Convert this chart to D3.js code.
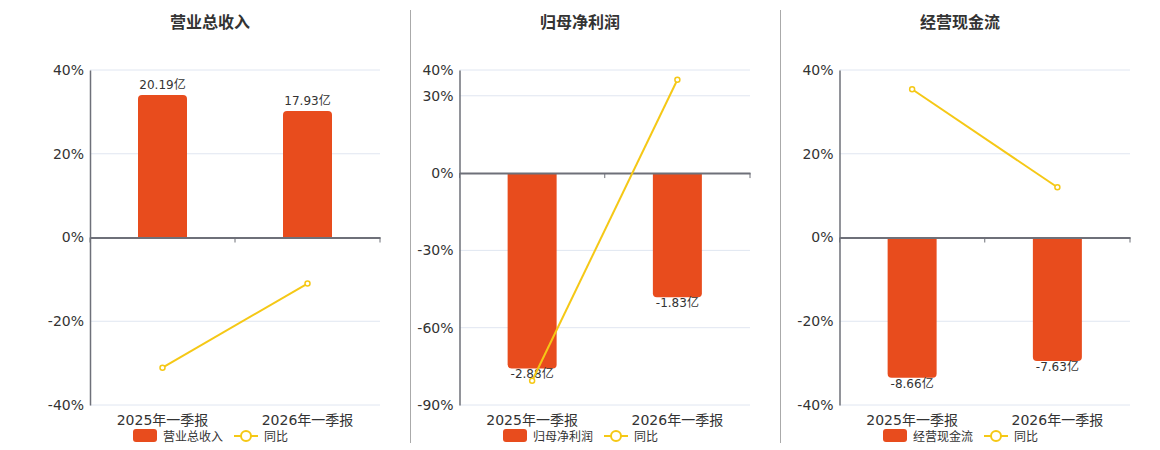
<!DOCTYPE html>
<html>
<head>
<meta charset="utf-8">
<script src="https://cdn.jsdelivr.net/npm/d3@7"></script>
<style>
  body { margin: 0; background: #fff; }
  svg { font-family: "DejaVu Sans", "Noto Sans CJK SC", sans-serif; }
</style>
</head>
<body>
<div id="chart"></div>
<script>
// Quarterly report: three small combo charts (bars = value in 亿, line = YoY %)

var categories = ["2025年一季报", "2026年一季报"];
var panelTitles = ["营业总收入", "归母净利润", "经营现金流"];

// bar values (亿)
var revenue = [20.19, 17.93];
var netProfit = [-2.88, -1.83];
var cashFlow = [-8.66, -7.63];

// YoY (%)
var revenueYoY = [-31.1, -11.0];
var profitYoY = [-80.6, 36.2];
var cashYoY = [35.4, 12.0];

// left axis ticks (%)
var revenueTicks = [-40, -20, 0, 20, 40];
var profitTicks = [-90, -60, -30, 0, 30, 40];
var cashTicks = [-40, -20, 0, 20, 40];

// hidden bar axis extents, zero aligned with the % axis
var revenueBarExtent = [-23.74, 23.74];
var profitBarExtent = [-3.42, 1.52];
var cashBarExtent = [-10.35, 10.35];

var svgWidth = 1160;
var svgHeight = 450;

var svg = d3.select("#chart")
  .append("svg")
  .attr("width", svgWidth)
  .attr("height", svgHeight);

var barColor = "#e84c1d";
var lineColor = "#f5c816";
var axisColor = "#6e7079";
var gridColor = "#e0e6f1";
var textColor = "#333";

var plotTop = 70, plotBottom = 405;

var panels = [
  { title: panelTitles[0], bars: revenue, yoy: revenueYoY, ticks: revenueTicks, barExtent: revenueBarExtent, left: 90, right: 380, center: 210 },
  { title: panelTitles[1], bars: netProfit, yoy: profitYoY, ticks: profitTicks, barExtent: profitBarExtent, left: 459.5, right: 750, center: 580 },
  { title: panelTitles[2], bars: cashFlow, yoy: cashYoY, ticks: cashTicks, barExtent: cashBarExtent, left: 839.5, right: 1130, center: 960 }
];

// dividers between panels
[410.5, 780.5].forEach(function(x) {
  svg.append("line")
    .attr("x1", x).attr("x2", x)
    .attr("y1", 10).attr("y2", 443)
    .attr("stroke", "#aaa")
    .attr("stroke-width", 1);
});

function barPath(x0, x1, yv, y0, r) {
  if (yv < y0) {
    return `M${x0},${y0} V${yv + r} Q${x0},${yv} ${x0 + r},${yv} H${x1 - r} Q${x1},${yv} ${x1},${yv + r} V${y0} Z`;
  }
  return `M${x0},${y0} V${yv - r} Q${x0},${yv} ${x0 + r},${yv} H${x1 - r} Q${x1},${yv} ${x1},${yv - r} V${y0} Z`;
}

panels.forEach(function(p) {
  var g = svg.append("g");

  var yScale = d3.scaleLinear()
    .domain([d3.min(p.ticks), d3.max(p.ticks)])
    .range([plotBottom, plotTop]);

  var barScale = d3.scaleLinear()
    .domain(p.barExtent)
    .range([plotBottom, plotTop]);

  var xScale = d3.scaleBand()
    .domain(categories)
    .range([p.left, p.right]);

  var barWidth = 49;

  // title
  g.append("text")
    .attr("x", p.center)
    .attr("y", 28)
    .attr("text-anchor", "middle")
    .style("font-size", "16px")
    .style("font-weight", "bold")
    .attr("fill", textColor)
    .text(p.title);

  // gridlines
  g.selectAll(".grid")
    .data(p.ticks.filter(function(t) { return t !== 0; }))
    .enter()
    .append("line")
    .attr("x1", p.left).attr("x2", p.right)
    .attr("y1", function(d) { return yScale(d); })
    .attr("y2", function(d) { return yScale(d); })
    .attr("stroke", gridColor)
    .attr("stroke-width", 1);

  // left axis
  var leftAxis = d3.axisLeft(yScale)
    .tickValues(p.ticks)
    .tickSize(0)
    .tickPadding(6)
    .tickFormat(function(d) { return d + "%"; });

  var yAxisG = g.append("g")
    .attr("transform", `translate(${p.left},0)`)
    .call(leftAxis);
  yAxisG.select(".domain").attr("stroke", axisColor).attr("stroke-width", 1.5);
  yAxisG.selectAll("text")
    .style("font-size", "14px")
    .style("font-family", "DejaVu Sans, Noto Sans CJK SC, sans-serif")
    .attr("fill", textColor);

  // bars
  g.selectAll(".bar")
    .data(p.bars)
    .enter()
    .append("path")
    .attr("fill", barColor)
    .attr("d", function(d, i) {
      var cx = xScale(categories[i]) + xScale.bandwidth() / 2;
      return barPath(cx - barWidth / 2, cx + barWidth / 2, barScale(d), barScale(0), 4);
    });

  // bar labels
  g.selectAll(".barLabel")
    .data(p.bars)
    .enter()
    .append("text")
    .attr("x", function(d, i) { return xScale(categories[i]) + xScale.bandwidth() / 2; })
    .attr("y", function(d) { return d >= 0 ? barScale(d) - 6 : barScale(d) + 10; })
    .attr("text-anchor", "middle")
    .style("font-size", "12px")
    .attr("fill", textColor)
    .text(function(d) { return d.toFixed(2) + "亿"; });

  // x axis on zero line
  var bottomAxis = d3.axisBottom(xScale)
    .tickSize(0)
    .tickPadding(0)
    .tickFormat("");
  var xAxisG = g.append("g")
    .attr("transform", `translate(0,${yScale(0)})`)
    .call(bottomAxis);
  xAxisG.select(".domain").attr("stroke", axisColor).attr("stroke-width", 2);

  // boundary ticks
  var bounds = [p.left, xScale(categories[1]), p.right];
  g.selectAll(".btick")
    .data(bounds)
    .enter()
    .append("line")
    .attr("x1", function(d) { return d; }).attr("x2", function(d) { return d; })
    .attr("y1", yScale(0)).attr("y2", yScale(0) + 5)
    .attr("stroke", axisColor)
    .attr("stroke-width", 1);

  // category labels
  g.selectAll(".catLabel")
    .data(categories)
    .enter()
    .append("text")
    .attr("x", function(d) { return xScale(d) + xScale.bandwidth() / 2; })
    .attr("y", 425)
    .attr("text-anchor", "middle")
    .style("font-size", "14px")
    .attr("fill", textColor)
    .text(function(d) { return d; });

  // YoY line
  var line = d3.line()
    .x(function(d, i) { return xScale(categories[i]) + xScale.bandwidth() / 2; })
    .y(function(d) { return yScale(d); });

  g.append("path")
    .datum(p.yoy)
    .attr("d", line)
    .attr("fill", "none")
    .attr("stroke", lineColor)
    .attr("stroke-width", 2);

  g.selectAll(".dot")
    .data(p.yoy)
    .enter()
    .append("circle")
    .attr("cx", function(d, i) { return xScale(categories[i]) + xScale.bandwidth() / 2; })
    .attr("cy", function(d) { return yScale(d); })
    .attr("r", 2.5)
    .attr("fill", "#fff")
    .attr("stroke", lineColor)
    .attr("stroke-width", 1.5);

  // legend
  var lg = g.append("g").attr("transform", `translate(${p.center},436)`);
  lg.append("rect")
    .attr("x", -77).attr("y", -7)
    .attr("width", 24).attr("height", 13)
    .attr("rx", 3)
    .attr("fill", barColor);
  lg.append("text")
    .attr("x", -47).attr("y", 4.5)
    .style("font-size", "12px")
    .attr("fill", textColor)
    .text(p.title);
  lg.append("line")
    .attr("x1", 24).attr("x2", 48)
    .attr("y1", 0).attr("y2", 0)
    .attr("stroke", lineColor)
    .attr("stroke-width", 2);
  lg.append("circle")
    .attr("cx", 36).attr("cy", 0)
    .attr("r", 5)
    .attr("fill", "#fff")
    .attr("stroke", lineColor)
    .attr("stroke-width", 2);
  lg.append("text")
    .attr("x", 54).attr("y", 4.5)
    .style("font-size", "12px")
    .attr("fill", textColor)
    .text("同比");
});
</script>
</body>
</html>
